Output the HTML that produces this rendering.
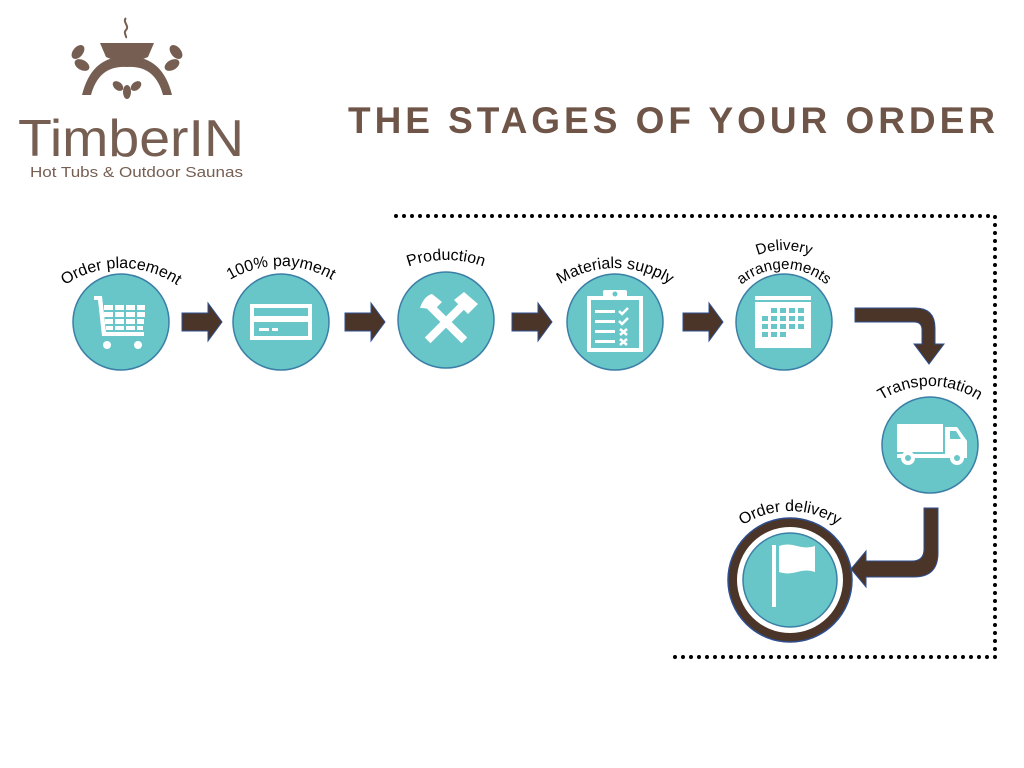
<!DOCTYPE html>
<html><head><meta charset="utf-8"><style>
html,body{margin:0;padding:0;background:#fff;}
svg{display:block}
</style></head><body>
<svg width="1024" height="768" viewBox="0 0 1024 768" xmlns="http://www.w3.org/2000/svg" font-family="Liberation Sans, sans-serif">
<defs>
<path id="a1" d="M21,368 A100,100 0 0 1 221,368"/>
<path id="a2" d="M181,366 A100,100 0 0 1 381,366"/>
<path id="a3" d="M336,370 A110,110 0 0 1 556,370"/>
<path id="a4" d="M515,368 A100,100 0 0 1 715,368"/>
<path id="a5" d="M719,334 A65,65 0 0 1 849,334"/>
<path id="a5b" d="M714,320 A70,70 0 0 1 854,320"/>
<path id="a6" d="M840,476 A90,90 0 0 1 1020,476"/>
<path id="a7" d="M705,596 A85,85 0 0 1 875,596"/>
</defs>

<!-- Logo -->
<g fill="#765f52">
<path d="M126,18 c-4,4 4,8 0,12 c-3,3 1,6 0,8" stroke="#765f52" stroke-width="2" fill="none"/>
<path d="M100,43 h54 l-6,14 q-21,10 -42,0 z"/>
<path d="M82,95 q10,-40 45,-38 q35,-2 45,38 h-9 q-8,-30 -36,-28 q-28,-2 -36,28 z"/>
<ellipse cx="78" cy="52" rx="5" ry="8" transform="rotate(40 78 52)"/>
<ellipse cx="82" cy="65" rx="5" ry="8" transform="rotate(-60 82 65)"/>
<ellipse cx="176" cy="52" rx="5" ry="8" transform="rotate(-40 176 52)"/>
<ellipse cx="172" cy="65" rx="5" ry="8" transform="rotate(60 172 65)"/>
<ellipse cx="127" cy="92" rx="4" ry="7"/>
<ellipse cx="118" cy="86" rx="4" ry="6" transform="rotate(-50 118 86)"/>
<ellipse cx="136" cy="86" rx="4" ry="6" transform="rotate(50 136 86)"/>
</g>
<text x="18" y="156" font-size="52" fill="#765f52" textLength="226" lengthAdjust="spacingAndGlyphs">TimberIN</text>
<text x="30" y="177" font-size="15" fill="#765f52" textLength="213" lengthAdjust="spacingAndGlyphs">Hot Tubs &amp; Outdoor Saunas</text>

<!-- Title -->
<text x="348" y="133" font-size="37" font-weight="bold" fill="#6e5548" textLength="647" lengthAdjust="spacing">THE STAGES OF YOUR ORDER</text>

<!-- Dotted border -->
<g stroke="#000" stroke-width="4" stroke-linecap="round" stroke-dasharray="0 8" fill="none">
<path d="M396,216 H995 V657 H668"/>
</g>

<!-- Circles -->
<g fill="#68c6c8" stroke="#3b7fa6" stroke-width="1.5">
<circle cx="121" cy="322" r="48"/>
<circle cx="281" cy="322" r="48"/>
<circle cx="446" cy="320" r="48"/>
<circle cx="615" cy="322" r="48"/>
<circle cx="784" cy="322" r="48"/>
<circle cx="930" cy="445" r="48"/>
<circle cx="790" cy="580" r="62" fill="#4a3528" stroke="#2f4f8f"/>
<circle cx="790" cy="580" r="53" fill="#fff" stroke="none"/>
<circle cx="790" cy="580" r="47"/>
</g>

<!-- Arrows -->
<g fill="#4a3528" stroke="#2f4f8f" stroke-width="1">
<path d="M182,313 h26 v-10 l14,19 l-14,19 v-10 h-26 z"/>
<path d="M345,313 h26 v-10 l14,19 l-14,19 v-10 h-26 z"/>
<path d="M512,313 h26 v-10 l14,19 l-14,19 v-10 h-26 z"/>
<path d="M683,313 h26 v-10 l14,19 l-14,19 v-10 h-26 z"/>
<path d="M855,308 h60 q20,0 20,20 v16 h9 l-15,20 l-15,-20 h8 v-14 q0,-8 -8,-8 h-59 z"/>
<path d="M938,508 v45 q0,24 -24,24 h-48 v10 l-15,-18 l15,-18 v10 h46 q12,0 12,-12 v-41 z"/>
</g>

<!-- Icons -->
<g fill="#fff" stroke="none">
<path d="M94,296 h8 l4,36 h38 v4 h-42 l-4,-36 h-4 z"/>
<rect x="104" y="305" width="9" height="5"/><rect x="115" y="305" width="9" height="5"/><rect x="126" y="305" width="9" height="5"/><rect x="137" y="305" width="8" height="5"/>
<rect x="104" y="312" width="9" height="5"/><rect x="115" y="312" width="9" height="5"/><rect x="126" y="312" width="9" height="5"/><rect x="137" y="312" width="8" height="5"/>
<rect x="105" y="319" width="8" height="5"/><rect x="115" y="319" width="9" height="5"/><rect x="126" y="319" width="9" height="5"/><rect x="137" y="319" width="7" height="5"/>
<rect x="106" y="326" width="7" height="4"/><rect x="115" y="326" width="9" height="4"/><rect x="126" y="326" width="9" height="4"/><rect x="137" y="326" width="6" height="4"/>
<circle cx="107" cy="345" r="4"/><circle cx="138" cy="345" r="4"/>
<path d="M250,304 h62 v36 h-62 z M254,308 v8 h54 v-8 z M254,322 v14 h54 v-14 z" fill-rule="evenodd"/>
<rect x="259" y="328" width="10" height="3"/><rect x="272" y="328" width="6" height="3"/>
<g transform="translate(446,322)">
<rect x="-4" y="-24" width="8" height="50" transform="rotate(45)"/>
<rect x="-4" y="-24" width="8" height="50" transform="rotate(-45)"/>
<path d="M-26,-14 q4,-12 12,-14 l10,8 l-8,8 q-8,-2 -14,-2 z"/>
<path d="M8,-22 l10,-8 l14,12 l-10,10 z"/>
</g>
<path d="M587,296 h56 v56 h-56 z M591,300 v48 h48 v-48 z" fill-rule="evenodd"/>
<rect x="603" y="290" width="24" height="10" rx="2"/>
<rect x="595" y="310" width="20" height="3"/><rect x="595" y="320" width="20" height="3"/><rect x="595" y="330" width="20" height="3"/><rect x="595" y="340" width="20" height="3"/>
<path d="M619,311 l3,3 l6,-6" stroke="#fff" stroke-width="2.5" fill="none"/>
<path d="M619,321 l3,3 l6,-6" stroke="#fff" stroke-width="2.5" fill="none"/>
<path d="M620,329 l7,6 M627,329 l-7,6 M620,339 l7,6 M627,339 l-7,6" stroke="#fff" stroke-width="2.5"/>
<rect x="755" y="296" width="56" height="52"/>
<rect x="897" y="424" width="46" height="28"/>
<path d="M945,427 h12 l10,14 v14 h-22 z"/>
<rect x="897" y="454" width="70" height="4"/>
<circle cx="908" cy="458" r="7"/><circle cx="957" cy="458" r="7"/>
<rect x="772" y="545" width="4" height="62"/>
<path d="M779,546 q8,-3 18,0 t18,0 v26 q-8,-3 -18,0 t-18,0 z"/>
</g>
<g fill="#68c6c8">
<circle cx="615" cy="294" r="2.5"/>
<rect x="771" y="308" width="6" height="5"/><rect x="780" y="308" width="6" height="5"/><rect x="789" y="308" width="6" height="5"/><rect x="798" y="308" width="6" height="5"/>
<rect x="762" y="316" width="6" height="5"/><rect x="771" y="316" width="6" height="5"/><rect x="780" y="316" width="6" height="5"/><rect x="789" y="316" width="6" height="5"/><rect x="798" y="316" width="6" height="5"/>
<rect x="762" y="324" width="6" height="5"/><rect x="771" y="324" width="6" height="5"/><rect x="780" y="324" width="6" height="5"/><rect x="789" y="324" width="6" height="5"/><rect x="798" y="324" width="6" height="5"/>
<rect x="762" y="332" width="6" height="5"/><rect x="771" y="332" width="6" height="5"/><rect x="780" y="332" width="6" height="5"/>
<rect x="755" y="300" width="56" height="2"/>
<circle cx="908" cy="458" r="3"/><circle cx="957" cy="458" r="3"/>
<path d="M950,431 h6 l5,8 h-11 z"/>
</g>

<!-- Labels -->
<g font-size="16" fill="#000" text-anchor="middle">
<text><textPath href="#a1" startOffset="50%">Order placement</textPath></text>
<text><textPath href="#a2" startOffset="50%">100% payment</textPath></text>
<text><textPath href="#a3" startOffset="50%">Production</textPath></text>
<text><textPath href="#a4" startOffset="50%">Materials supply</textPath></text>
<text font-size="15"><textPath href="#a5" startOffset="50%">arrangements</textPath></text>
<text font-size="15"><textPath href="#a5b" startOffset="50%">Delivery</textPath></text>
<text><textPath href="#a6" startOffset="50%">Transportation</textPath></text>
<text><textPath href="#a7" startOffset="50%">Order delivery</textPath></text>
</g>
</svg>
</body></html>
